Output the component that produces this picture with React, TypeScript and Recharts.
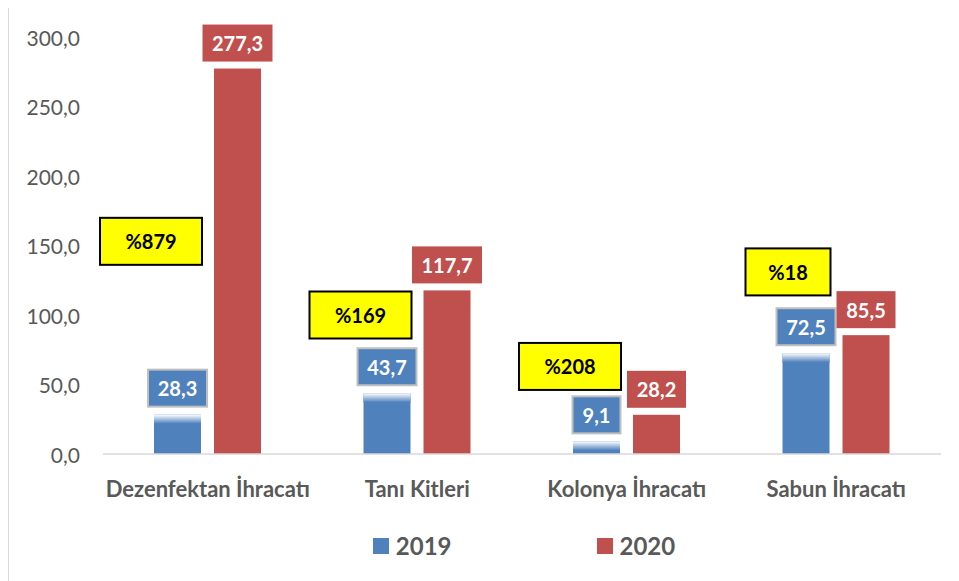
import React from 'react';
import { BarChart, Bar, XAxis, YAxis, Legend } from 'recharts';

const categories = ['Dezenfektan İhracatı', 'Tanı Kitleri', 'Kolonya İhracatı', 'Sabun İhracatı'];
const values2019 = [28.3, 43.7, 9.1, 72.5];
const values2020 = [277.3, 117.7, 28.2, 85.5];
// yellow callouts: change 2019 -> 2020, and the value level their box is centred on
const changeLabels = ['%879', '%169', '%208', '%18'];
const changeLevels = [153, 100, 63, 131];
const yTicks = [0, 50, 100, 150, 200, 250, 300];

const BLUE = '#4f81bd';
const RED = '#c0504d';
const FONT = 'Lato, "Open Sans", sans-serif';

const data = categories.map((name, i) => ({
  name,
  y2019: values2019[i],
  y2020: values2020[i],
}));

const fmt = (v: number) => v.toFixed(1).replace('.', ',');

const ValueBox = ({ cx, top, text, fill, border, minW }: any) => {
  const w = Math.max(minW, text.length * 11 + 15);
  const h = 37;
  return (
    <g>
      <rect
        x={cx - w / 2}
        y={top - h}
        width={w}
        height={h}
        fill={fill}
        stroke={border || 'none'}
        strokeWidth={border ? 2 : 0}
      />
      <text
        x={cx}
        y={top - h / 2}
        textAnchor="middle"
        dominantBaseline="central"
        fill="#fff"
        fontFamily={FONT}
        fontWeight={700}
        fontSize={20}
      >
        {text}
      </text>
    </g>
  );
};

const BlueShape = (props: any) => {
  const { x, y, width, height, index } = props;
  const value = values2019[index];
  const base = y + height;
  const perUnit = height / value;
  const cy = base - changeLevels[index] * perUnit;
  const label = changeLabels[index];
  const cw = 34 + label.length * 17;
  const ch = 47;
  const right = x + width + 1;
  return (
    <g>
      <rect x={x} y={y} width={width} height={height} fill={BLUE} />
      <rect x={x} y={y} width={width} height={Math.min(9, height)} fill="url(#blueTop)" />
      <ValueBox cx={x + width / 2} top={y - 8} text={fmt(value)} fill={BLUE} border="#bfbfbf" minW={width} />
      <rect x={right - cw} y={cy - ch / 2} width={cw} height={ch} fill="#ffff00" stroke="#000" strokeWidth={2} />
      <text
        x={right - cw / 2}
        y={cy}
        textAnchor="middle"
        dominantBaseline="central"
        fill="#000"
        fontFamily={FONT}
        fontWeight={700}
        fontSize={20}
      >
        {label}
      </text>
    </g>
  );
};

const RedShape = (props: any) => {
  const { x, y, width, height, index } = props;
  return (
    <g>
      <rect x={x} y={y} width={width} height={height} fill={RED} />
      <ValueBox cx={x + width / 2} top={y - 7} text={fmt(values2020[index])} fill={RED} minW={width} />
    </g>
  );
};

const CategoryTick = ({ x, y, payload }: any) => (
  <text
    x={x}
    y={y + 26}
    textAnchor="middle"
    dominantBaseline="central"
    fill="#595959"
    fontFamily={FONT}
    fontWeight={700}
    fontSize={22}
  >
    {payload.value}
  </text>
);

const ValueTick = ({ x, y, payload }: any) => (
  <text
    x={x}
    y={y}
    textAnchor="end"
    dominantBaseline="central"
    fill="#595959"
    fontFamily={FONT}
    fontSize={21}
  >
    {fmt(payload.value)}
  </text>
);

const LegendContent = () => (
  <div
    style={{
      display: 'flex',
      justifyContent: 'center',
      alignItems: 'center',
      height: 63,
      gap: 145,
      fontFamily: FONT,
      fontWeight: 700,
      fontSize: 24,
      color: '#595959',
    }}
  >
    {[
      { label: '2019', color: BLUE },
      { label: '2020', color: RED },
    ].map((it) => (
      <div key={it.label} style={{ display: 'flex', alignItems: 'center', gap: 7 }}>
        <span style={{ width: 16, height: 16, background: it.color, display: 'inline-block' }} />
        <span>{it.label}</span>
      </div>
    ))}
  </div>
);

export default function App() {
  return (
    <div
      style={{
        marginTop: -2,
        width: 951,
        height: 575,
        borderTop: '1px solid #d9d9d9',
        borderLeft: '1px solid #d9d9d9',
        background: '#fff',
      }}
    >
      <BarChart
        width={950}
        height={574}
        data={data}
        margin={{ top: 30, right: 18, left: 0, bottom: 0 }}
        barSize={47}
        barGap={13}
      >
        <defs>
          <linearGradient id="blueTop" x1="0" y1="0" x2="0" y2="1">
            <stop offset="0%" stopColor="#ffffff" />
            <stop offset="100%" stopColor={BLUE} />
          </linearGradient>
        </defs>
        <XAxis
          dataKey="name"
          axisLine={{ stroke: '#d9d9d9', strokeWidth: 1.5 }}
          tickLine={false}
          tick={<CategoryTick />}
          height={60}
          interval={0}
        />
        <YAxis
          domain={[0, 300]}
          ticks={yTicks}
          axisLine={false}
          tickLine={false}
          tickSize={0}
          tickMargin={23}
          width={94}
          tick={<ValueTick />}
        />
        <Legend
          verticalAlign="bottom"
          height={67}
          content={<LegendContent />}
          wrapperStyle={{ left: 96, width: 838 }}
        />
        <Bar dataKey="y2019" name="2019" fill={BLUE} shape={<BlueShape />} isAnimationActive={false} />
        <Bar dataKey="y2020" name="2020" fill={RED} shape={<RedShape />} isAnimationActive={false} />
      </BarChart>
    </div>
  );
}
